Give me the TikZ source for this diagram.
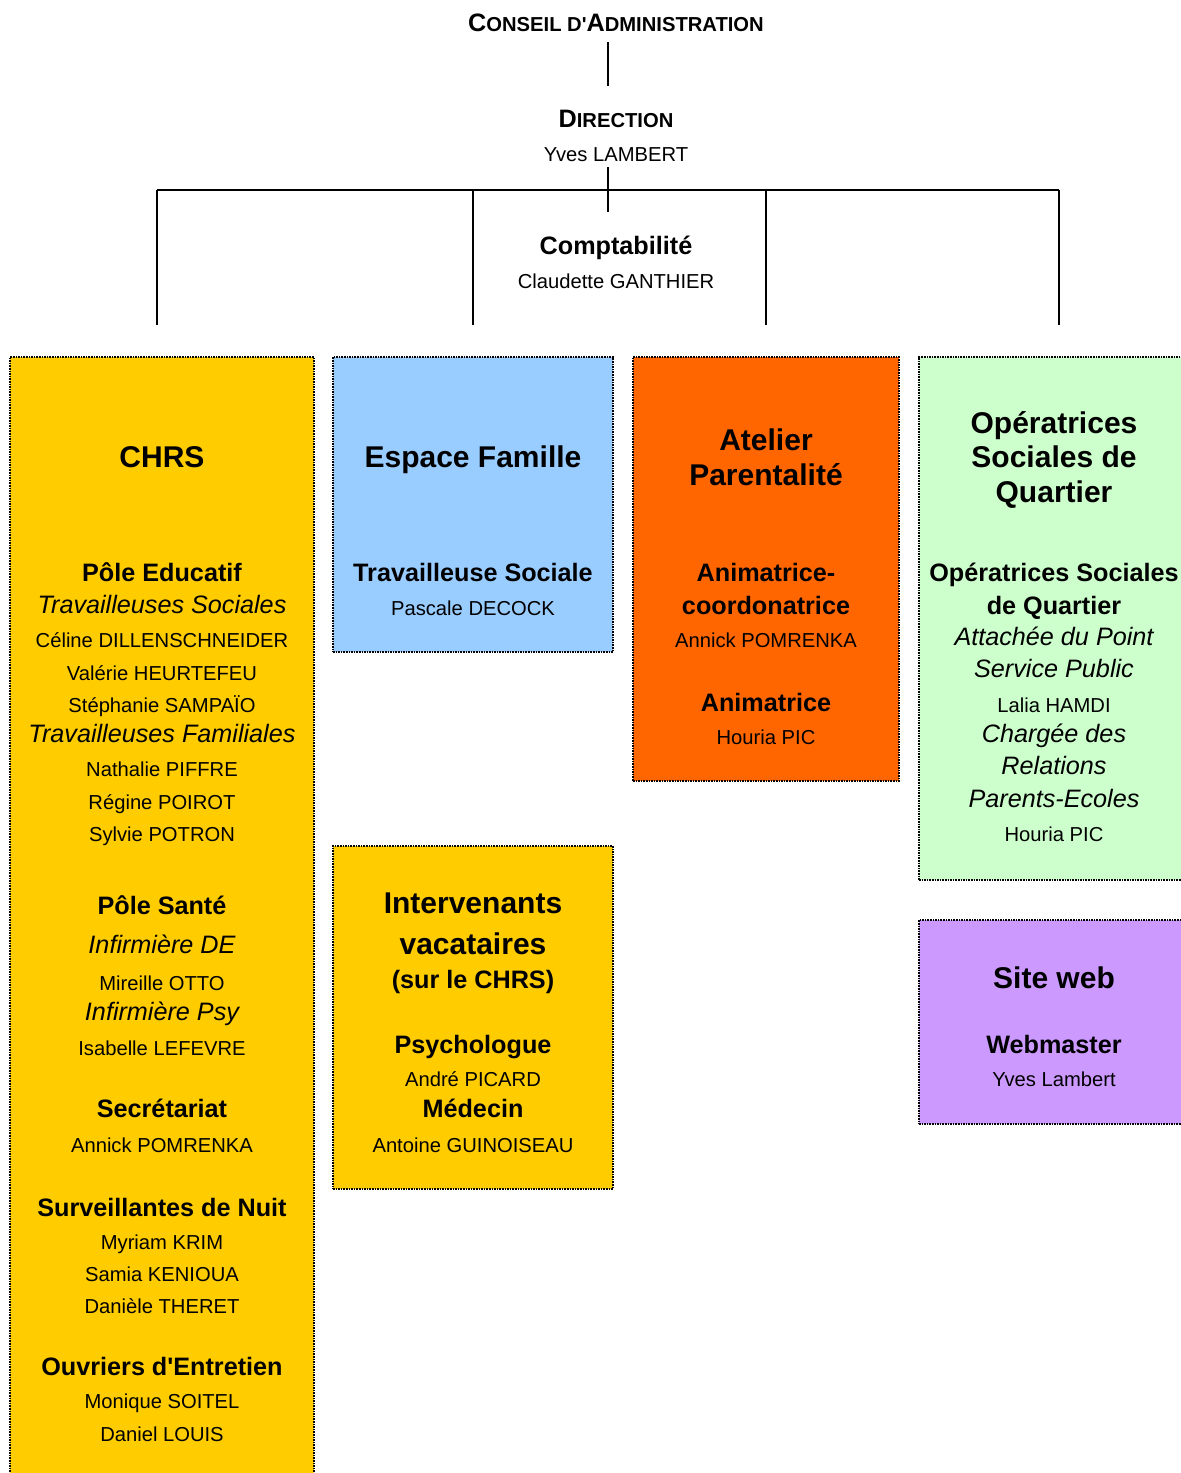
\documentclass[tikz,border=0pt]{standalone}
\usepackage{fontspec}
\setmainfont{Liberation Sans}
\usetikzlibrary{fit}
\definecolor{chrsc}{HTML}{FFCC00}
\definecolor{espc}{HTML}{99CCFF}
\definecolor{atec}{HTML}{FF6600}
\definecolor{opec}{HTML}{CCFFCC}
\definecolor{webc}{HTML}{CC99FF}
\begin{document}
\begin{tikzpicture}[x=0.5pt,y=-0.5pt,
  t/.style={inner sep=0pt, text height=0.72em, text depth=0pt, anchor=center},
  body/.style={t, font=\fontsize{10.1}{12}\selectfont},
  hd/.style={t, yshift=-0.5pt, font=\fontsize{12.6}{14}\selectfont\bfseries},
  itl/.style={t, font=\fontsize{12.6}{14}\selectfont\itshape},
  big/.style={t, yshift=-1.5pt, font=\fontsize{15}{18}\selectfont\bfseries},
  box/.style={draw=black, line width=0.9pt, dash pattern=on 0.8pt off 0.5pt, inner sep=0pt},
  link/.style={draw=black, line width=1pt}]
\useasboundingbox (0,0) rectangle (1180,1473);

% boxes
\node[box, fill=chrsc, fit={(10,357) (314,1480)}] (chrs) {};
\node[box, fill=espc, fit={(333,357) (613,652)}] (esp) {};
\node[box, fill=atec, fit={(633,357) (899,781)}] (ate) {};
\node[box, fill=opec, fit={(919,357) (1186,880)}] (ope) {};
\node[box, fill=chrsc, fit={(333,846) (613,1189)}] (int) {};
\node[box, fill=webc, fit={(919,920) (1186,1124)}] (web) {};

% top
\node[t, font=\bfseries] (cons) at (616,24) {{\fontsize{12.6}{14}\selectfont C}{\fontsize{10.1}{12}\selectfont ONSEIL D\textquotesingle}{\fontsize{12.6}{14}\selectfont A}{\fontsize{10.1}{12}\selectfont DMINISTRATION}};
\node[t, font=\bfseries] (dir) at (616,120) {{\fontsize{12.6}{14}\selectfont D}{\fontsize{10.1}{12}\selectfont IRECTION}};
\node[body] (dirn) at (616,154) {Yves LAMBERT};
\node[hd] (compta) at (616,246) {Comptabilité};
\node[body] (comptan) at (616,281) {Claudette GANTHIER};

\coordinate (c1) at (608,42);
\coordinate (c2) at (608,86);
\coordinate (d1) at (608,167);
\coordinate (d2) at (608,212);
\coordinate (h0) at (157,190);
\coordinate (h1) at (473,190);
\coordinate (h2) at (766,190);
\coordinate (h3) at (1059,190);
\coordinate (v0) at (157,325);
\coordinate (v1) at (473,325);
\coordinate (v2) at (766,325);
\coordinate (v3) at (1059,325);
\draw[link] (c1) -- (c2);
\draw[link] (d1) -- (d2);
\draw[link] (h0) -- (h3);
\draw[link] (h0) -- (v0);
\draw[link] (h1) -- (v1);
\draw[link] (h2) -- (v2);
\draw[link] (h3) -- (v3);

% CHRS
\node[big] (a0) at (162,457) {CHRS};
\node[hd] (a1) at (162,573) {Pôle Educatif};
\node[itl] (a2) at (162,606) {Travailleuses Sociales};
\node[body] (a3) at (162,640) {Céline DILLENSCHNEIDER};
\node[body] (a4) at (162,673) {Valérie HEURTEFEU};
\node[body] (a5) at (162,705) {Stéphanie SAMPAÏO};
\node[itl] (a6) at (162,735) {Travailleuses Familiales};
\node[body] (a7) at (162,769) {Nathalie PIFFRE};
\node[body] (a8) at (162,802) {Régine POIROT};
\node[body] (a9) at (162,834) {Sylvie POTRON};
\node[hd] (a10) at (162,906) {Pôle Santé};
\node[itl] (a11) at (162,946) {Infirmière DE};
\node[body] (a12) at (162,983) {Mireille OTTO};
\node[itl] (a13) at (162,1013) {Infirmière Psy};
\node[body] (a14) at (162,1048) {Isabelle LEFEVRE};
\node[hd] (a15) at (162,1109) {Secrétariat};
\node[body] (a16) at (162,1145) {Annick POMRENKA};
\node[hd] (a17) at (162,1208) {Surveillantes de Nuit};
\node[body] (a18) at (162,1242) {Myriam KRIM};
\node[body] (a19) at (162,1274) {Samia KENIOUA};
\node[body] (a20) at (162,1306) {Danièle THERET};
\node[hd] (a21) at (162,1367) {Ouvriers d\textquotesingle Entretien};
\node[body] (a22) at (162,1401) {Monique SOITEL};
\node[body] (a23) at (162,1434) {Daniel LOUIS};

% Espace Famille
\node[big] (b0) at (473,457) {Espace Famille};
\node[hd] (b1) at (473,573) {Travailleuse Sociale};
\node[body] (b2) at (473,608) {Pascale DECOCK};

% Atelier
\node[big] (e0) at (766,440) {Atelier};
\node[big] (e1) at (766,475) {Parentalité};
\node[hd] (e2) at (766,573) {Animatrice-};
\node[hd] (e3) at (766,606) {coordonatrice};
\node[body] (e4) at (766,640) {Annick POMRENKA};
\node[hd] (e5) at (766,703) {Animatrice};
\node[body] (e6) at (766,737) {Houria PIC};

% Operatrices
\node[big] (o0) at (1054,423) {Opératrices};
\node[big] (o1) at (1054,457) {Sociales de};
\node[big] (o2) at (1054,492) {Quartier};
\node[hd] (o3) at (1054,573) {Opératrices Sociales};
\node[hd] (o4) at (1054,606) {de Quartier};
\node[itl] (o5) at (1054,638) {Attachée du Point};
\node[itl] (o6) at (1054,670) {Service Public};
\node[body] (o7) at (1054,705) {Lalia HAMDI};
\node[itl] (o8) at (1054,735) {Chargée des};
\node[itl] (o9) at (1054,767) {Relations};
\node[itl] (o10) at (1054,800) {Parents-Ecoles};
\node[body] (o11) at (1054,834) {Houria PIC};

% Intervenants
\node[big] (i0) at (473,903) {Intervenants};
\node[big] (i1) at (473,944) {vacataires};
\node[hd] (i2) at (473,980) {(sur le CHRS)};
\node[hd] (i3) at (473,1045) {Psychologue};
\node[body] (i4) at (473,1079) {André PICARD};
\node[hd] (i5) at (473,1109) {Médecin};
\node[body] (i6) at (473,1145) {Antoine GUINOISEAU};

% Site web
\node[big] (w0) at (1054,978) {Site web};
\node[hd] (w1) at (1054,1045) {Webmaster};
\node[body] (w2) at (1054,1079) {Yves Lambert};
\end{tikzpicture}
\end{document}
